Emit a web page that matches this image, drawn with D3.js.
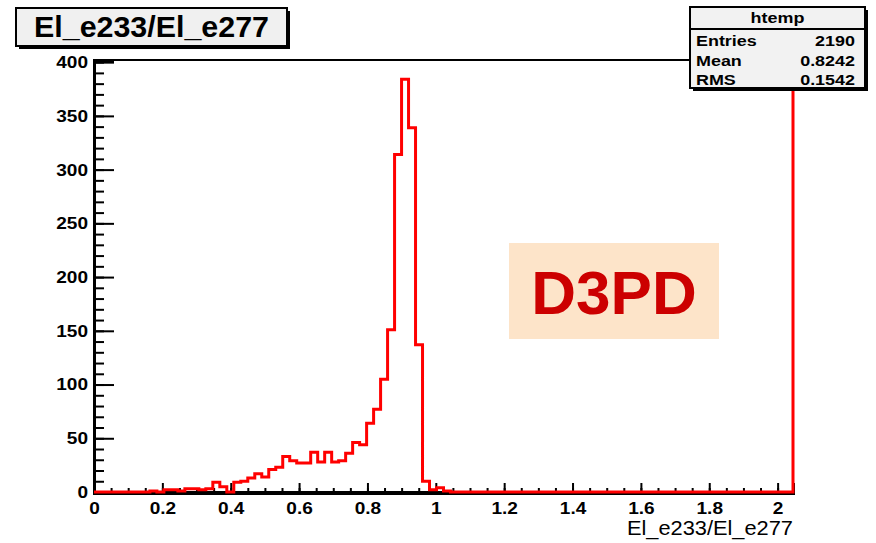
<!DOCTYPE html>
<html>
<head>
<meta charset="utf-8">
<script src="https://cdn.jsdelivr.net/npm/d3@7"></script>
<style>
  body { margin: 0; background: #fff; }
  svg { display: block; font-family: "Liberation Sans", Arial, sans-serif; }
</style>
</head>
<body>
<script>
  // histogram htemp: El_e233/El_e277, 100 bins on [0, 2.045]
  var xMax = 2.045;
  var nBins = 100;
  var counts = [
    0, 0, 0, 0, 0, 0, 0, 0, 1, 0,
    2, 2, 1, 3, 3, 2, 3, 9, 5, 0,
    9, 10, 13, 17, 14, 21, 23, 33, 29, 27,
    27, 37, 28, 37, 28, 29, 36, 46, 44, 64,
    77, 105, 151, 314, 384, 339, 137, 10, 2, 4,
    1, 0, 0, 0, 0, 0, 0, 0, 0, 0,
    0, 0, 0, 0, 0, 0, 0, 0, 0, 0,
    0, 0, 0, 0, 0, 0, 0, 0, 0, 0,
    0, 0, 0, 0, 0, 0, 0, 0, 0, 0,
    0, 0, 0, 0, 0, 0, 0, 0, 0, 0
  ];
  // the outline climbs off the top at the right edge
  var rightEdgeCount = 600;

  var xMajorTicks = [0, 0.2, 0.4, 0.6, 0.8, 1, 1.2, 1.4, 1.6, 1.8, 2];
  var yMajorTicks = [0, 50, 100, 150, 200, 250, 300, 350, 400];
  var yMax = 402;

  var titleText = 'El_e233/El_e277';
  var xTitle = 'El_e233/El_e277';
  var statsName = 'htemp';
  var statsLabels = ['Entries', 'Mean', 'RMS'];
  var statsValues = ['2190', '0.8242', '0.1542'];
  var stampText = 'D3PD';

  // stretch text horizontally, the canvas picture was widened
  var widen = function(sel, k){
    sel.each(function(){
      var w = this.getComputedTextLength();
      d3.select(this)
        .attr('textLength', w * k)
        .attr('lengthAdjust', 'spacingAndGlyphs');
    });
  };

  var svg = d3.select('body').append('svg')
    .attr('width', 876)
    .attr('height', 543);

  var plotL = 94, plotR = 793, plotT = 60, plotB = 492;

  var x = d3.scaleLinear().domain([0, xMax]).range([plotL, plotR]);
  var y = d3.scaleLinear().domain([0, yMax]).range([plotB, plotT]);

  // frame
  svg.append('rect')
    .attr('x', plotL)
    .attr('y', plotT)
    .attr('width', plotR - plotL)
    .attr('height', plotB - plotT)
    .attr('fill', 'none')
    .attr('stroke', '#000')
    .attr('stroke-width', 2);

  // axes
  var fmtX = function(d){ return d % 1 === 0 ? d3.format('d')(d) : d3.format('.1f')(d); };

  svg.append('g')
    .attr('transform', 'translate(0,' + (plotB + 1) + ')')
    .call(d3.axisBottom(x).tickValues(xMajorTicks).tickSize(-10).tickPadding(9).tickFormat(fmtX));
  svg.append('g')
    .attr('transform', 'translate(0,' + (plotB + 1) + ')')
    .call(d3.axisBottom(x).tickValues(d3.range(0, 2.04, 0.05)).tickSize(-5).tickFormat(''))
    .select('.domain').remove();

  svg.append('g')
    .attr('transform', 'translate(' + plotL + ',0)')
    .call(d3.axisLeft(y).tickValues(yMajorTicks).tickSize(-20).tickPadding(6));
  svg.append('g')
    .attr('transform', 'translate(' + plotL + ',0)')
    .call(d3.axisLeft(y).tickValues(d3.range(0, 401, 10)).tickSize(-10).tickFormat(''))
    .select('.domain').remove();

  svg.selectAll('.domain').attr('stroke-width', 3);
  svg.selectAll('.tick line').attr('stroke-width', 2);
  svg.selectAll('.tick text')
    .attr('font-family', '"Liberation Sans", Arial, sans-serif')
    .attr('font-size', 17)
    .attr('font-weight', 'bold')
    .attr('fill', '#000')
    .call(widen, 1.12);

  // histogram outline
  svg.append('clipPath')
    .attr('id', 'plotClip')
    .append('rect')
    .attr('x', plotL - 2)
    .attr('y', plotT)
    .attr('width', plotR - plotL + 4)
    .attr('height', plotB - plotT + 4);

  var bw = xMax / nBins;
  var pts = [[0, 0]];
  counts.forEach(function(c, i){
    pts.push([i * bw, c]);
    pts.push([(i + 1) * bw, c]);
  });
  pts.push([xMax, 0]);
  pts.push([xMax, rightEdgeCount]);

  var line = d3.line()
    .x(function(d){ return x(d[0]); })
    .y(function(d){ return y(d[1]); });

  svg.append('path')
    .attr('clip-path', 'url(#plotClip)')
    .attr('d', line(pts))
    .attr('fill', 'none')
    .attr('stroke', '#ff0000')
    .attr('stroke-width', 3)
    .attr('stroke-linejoin', 'miter');

  // x axis title
  svg.append('text')
    .attr('x', plotR)
    .attr('y', 535)
    .attr('text-anchor', 'end')
    .attr('font-size', 20)
    .text(xTitle)
    .call(widen, 1.09);

  // title box
  svg.append('rect')
    .attr('x', 19).attr('y', 11)
    .attr('width', 271).attr('height', 38)
    .attr('fill', '#000');
  svg.append('rect')
    .attr('x', 16).attr('y', 8)
    .attr('width', 271).attr('height', 38)
    .attr('fill', '#f0f0f0')
    .attr('stroke', '#000')
    .attr('stroke-width', 2);
  svg.append('text')
    .attr('x', 151.5)
    .attr('y', 37)
    .attr('text-anchor', 'middle')
    .attr('font-size', 29)
    .attr('font-weight', 'bold')
    .text(titleText)
    .attr('textLength', 235)
    .attr('lengthAdjust', 'spacingAndGlyphs');

  // stats box
  var sx = 690, sy = 7, sw = 175, sh = 81;
  svg.append('rect')
    .attr('x', sx + 3).attr('y', sy + 3)
    .attr('width', sw).attr('height', sh)
    .attr('fill', '#000');
  svg.append('rect')
    .attr('x', sx).attr('y', sy)
    .attr('width', sw).attr('height', sh)
    .attr('fill', '#f2f2f2')
    .attr('stroke', '#000')
    .attr('stroke-width', 2);
  svg.append('line')
    .attr('x1', sx).attr('x2', sx + sw)
    .attr('y1', 29).attr('y2', 29)
    .attr('stroke', '#000')
    .attr('stroke-width', 2);
  svg.append('text')
    .attr('x', sx + sw / 2)
    .attr('y', 23)
    .attr('text-anchor', 'middle')
    .attr('font-size', 14)
    .attr('font-weight', 'bold')
    .text(statsName)
    .call(widen, 1.28);

  var rowY = d3.scalePoint().domain(statsLabels).range([46, 85]);
  svg.selectAll('.statLabel')
    .data(statsLabels)
    .enter().append('text')
    .attr('class', 'statLabel')
    .attr('x', sx + 6)
    .attr('y', function(d){ return rowY(d); })
    .attr('font-size', 14)
    .attr('font-weight', 'bold')
    .text(function(d){ return d; })
    .call(widen, 1.28);
  svg.selectAll('.statValue')
    .data(statsValues)
    .enter().append('text')
    .attr('class', 'statValue')
    .attr('x', sx + sw - 10)
    .attr('y', function(d, i){ return rowY(statsLabels[i]); })
    .attr('text-anchor', 'end')
    .attr('font-size', 14)
    .attr('font-weight', 'bold')
    .text(function(d){ return d; })
    .call(widen, 1.28);

  // D3PD stamp
  svg.append('rect')
    .attr('x', 509).attr('y', 243)
    .attr('width', 210).attr('height', 96)
    .attr('fill', '#fde4c9');
  svg.append('text')
    .attr('x', 614)
    .attr('y', 314)
    .attr('text-anchor', 'middle')
    .attr('font-size', 62)
    .attr('font-weight', 'bold')
    .attr('fill', '#cc0000')
    .text(stampText);
</script>
</body>
</html>
